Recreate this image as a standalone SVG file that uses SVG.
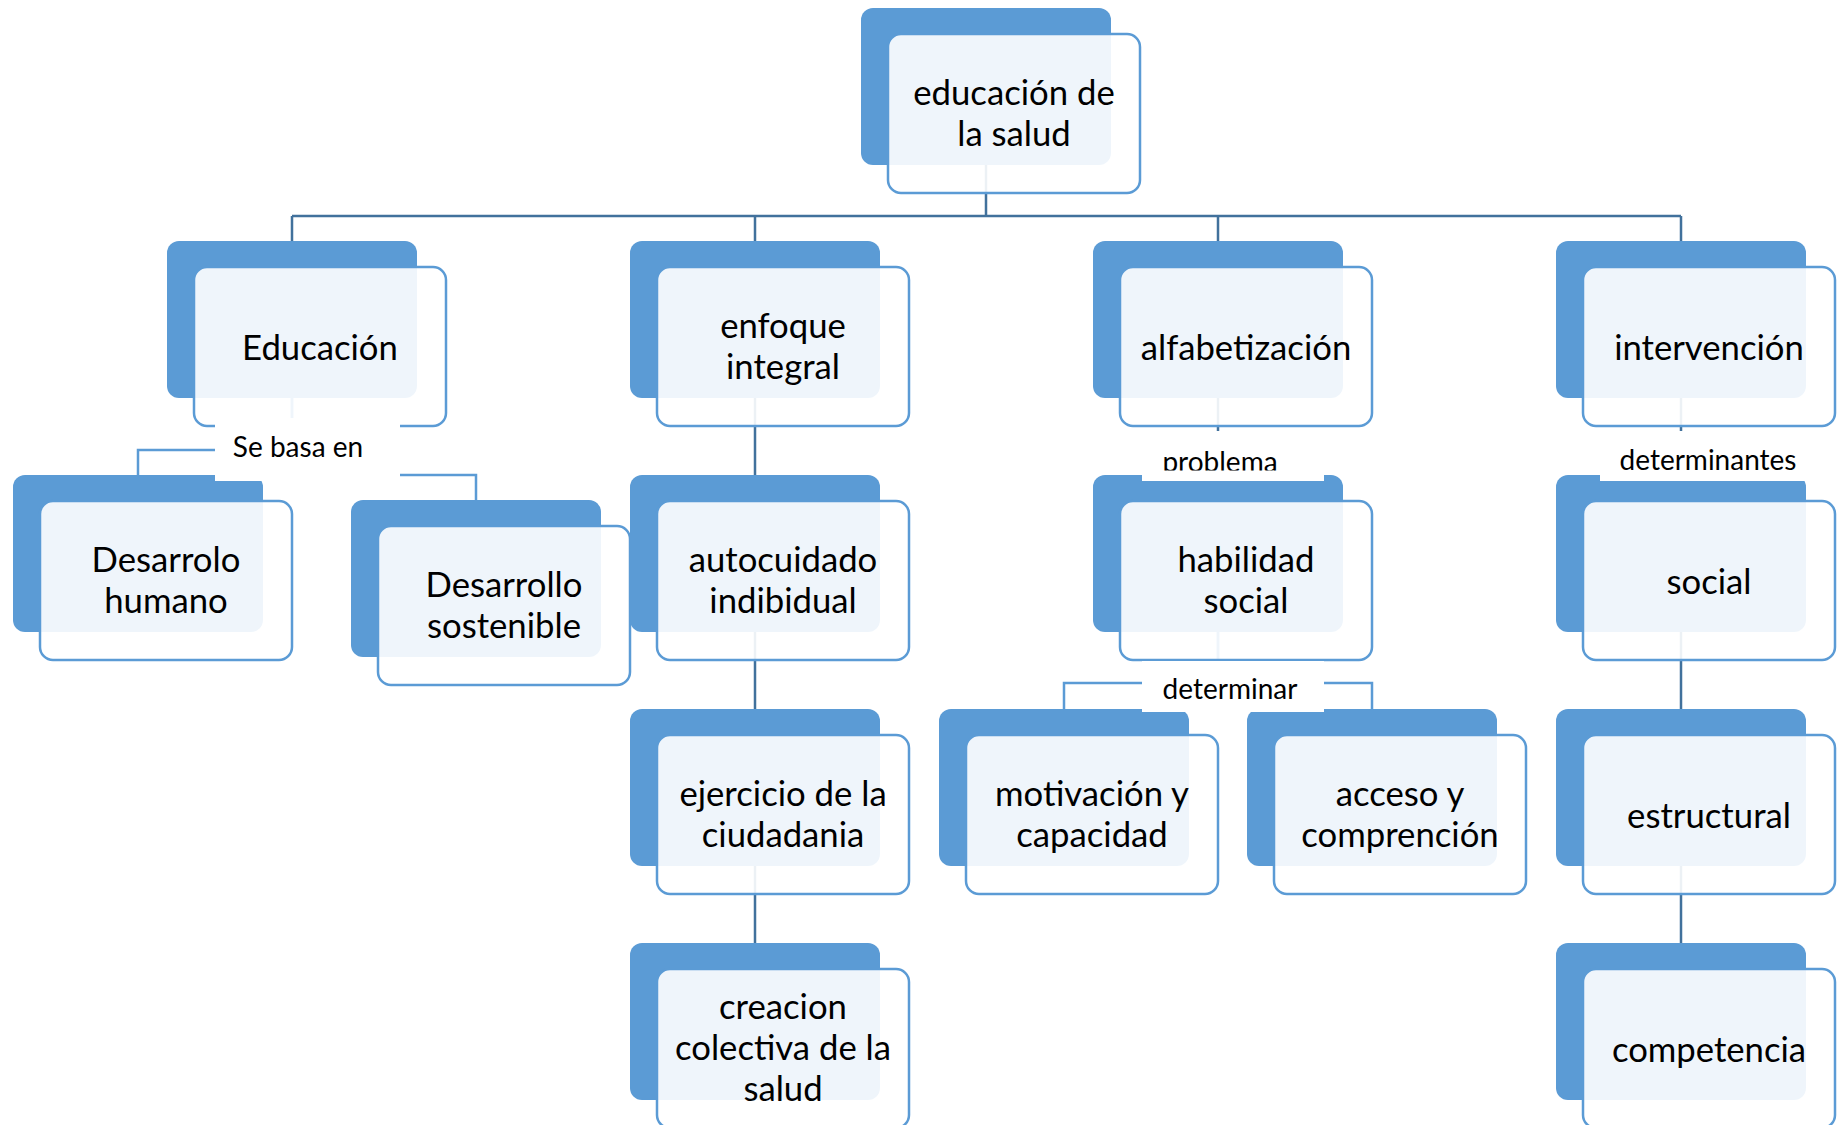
<svg xmlns="http://www.w3.org/2000/svg" width="1838" height="1125" viewBox="0 0 1838 1125">
<style>
.back{fill:#5B9BD5}
.front{fill:#fff;fill-opacity:0.9;stroke:#5B9BD5;stroke-width:2.5}
.t{font-family:Lato,"Liberation Sans",sans-serif;font-size:34.7px;text-anchor:middle;fill:#000}
.lb{font-family:Lato,"Liberation Sans",sans-serif;font-size:28px;text-anchor:middle;fill:#000}
.lbox{fill:#fff}
.c{fill:none;stroke:#41719C;stroke-width:2.5}
.c2{fill:none;stroke:#5B9BD5;stroke-width:2.5}
</style>
<defs>
<clipPath id="clipProb"><rect x="1142" y="431" width="182" height="39.5"/></clipPath>
</defs>
<rect width="1838" height="1125" fill="#fff"/>
<g id="connectors">
<path class="c" d="M986 165 V216 M292 216 H1681 M292 216 V241 M755 216 V241 M1218 216 V241 M1681 216 V241"/>
<path class="c" d="M755 398 V475 M755 632 V709 M755 866 V943"/>
<path class="c" d="M1218 398 V475"/>
<path class="c" d="M1681 398 V475 M1681 632 V709 M1681 866 V943"/>
<path class="c2" d="M292 398 V450 H138 V475"/>
<path class="c2" d="M292 398 V475 H476 V500"/>
<path class="c2" d="M1218 632 V683 H1064 V709"/>
<path class="c2" d="M1218 632 V683 H1372 V709"/>
</g>
<g id="n-top">
<rect class="back" x="861" y="8" width="250" height="157" rx="12"/>
<rect class="front" x="888" y="34" width="252" height="159" rx="13"/>
<text class="t"><tspan x="1014" y="104.5">educación de</tspan><tspan x="1014" y="145.5">la salud</tspan></text>
</g>
<g id="n-educacion">
<rect class="back" x="167" y="241" width="250" height="157" rx="12"/>
<rect class="front" x="194" y="267" width="252" height="159" rx="13"/>
<text class="t" x="320" y="359.5">Educación</text>
</g>
<g id="n-enfoque">
<rect class="back" x="630" y="241" width="250" height="157" rx="12"/>
<rect class="front" x="657" y="267" width="252" height="159" rx="13"/>
<text class="t"><tspan x="783" y="337.5">enfoque</tspan><tspan x="783" y="378.5">integral</tspan></text>
</g>
<g id="n-alfabetizacion">
<rect class="back" x="1093" y="241" width="250" height="157" rx="12"/>
<rect class="front" x="1120" y="267" width="252" height="159" rx="13"/>
<text class="t" x="1246" y="359.5">alfabetización</text>
</g>
<g id="n-intervencion">
<rect class="back" x="1556" y="241" width="250" height="157" rx="12"/>
<rect class="front" x="1583" y="267" width="252" height="159" rx="13"/>
<text class="t" x="1709" y="359.5">intervención</text>
</g>
<g id="n-humano">
<rect class="back" x="13" y="475" width="250" height="157" rx="12"/>
<rect class="front" x="40" y="501" width="252" height="159" rx="13"/>
<text class="t"><tspan x="166" y="571.5">Desarrolo</tspan><tspan x="166" y="612.5">humano</tspan></text>
</g>
<g id="n-sostenible">
<rect class="back" x="351" y="500" width="250" height="157" rx="12"/>
<rect class="front" x="378" y="526" width="252" height="159" rx="13"/>
<text class="t"><tspan x="504" y="596.5">Desarrollo</tspan><tspan x="504" y="637.5">sostenible</tspan></text>
</g>
<g id="n-autocuidado">
<rect class="back" x="630" y="475" width="250" height="157" rx="12"/>
<rect class="front" x="657" y="501" width="252" height="159" rx="13"/>
<text class="t"><tspan x="783" y="571.5">autocuidado</tspan><tspan x="783" y="612.5">indibidual</tspan></text>
</g>
<g id="n-habilidad">
<rect class="back" x="1093" y="475" width="250" height="157" rx="12"/>
<rect class="front" x="1120" y="501" width="252" height="159" rx="13"/>
<text class="t"><tspan x="1246" y="571.5">habilidad</tspan><tspan x="1246" y="612.5">social</tspan></text>
</g>
<g id="n-social">
<rect class="back" x="1556" y="475" width="250" height="157" rx="12"/>
<rect class="front" x="1583" y="501" width="252" height="159" rx="13"/>
<text class="t" x="1709" y="593.5">social</text>
</g>
<g id="n-ejercicio">
<rect class="back" x="630" y="709" width="250" height="157" rx="12"/>
<rect class="front" x="657" y="735" width="252" height="159" rx="13"/>
<text class="t"><tspan x="783" y="805.5">ejercicio de la</tspan><tspan x="783" y="846.5">ciudadania</tspan></text>
</g>
<g id="n-motivacion">
<rect class="back" x="939" y="709" width="250" height="157" rx="12"/>
<rect class="front" x="966" y="735" width="252" height="159" rx="13"/>
<text class="t"><tspan x="1092" y="805.5">motivación y</tspan><tspan x="1092" y="846.5">capacidad</tspan></text>
</g>
<g id="n-acceso">
<rect class="back" x="1247" y="709" width="250" height="157" rx="12"/>
<rect class="front" x="1274" y="735" width="252" height="159" rx="13"/>
<text class="t"><tspan x="1400" y="805.5">acceso y</tspan><tspan x="1400" y="846.5">comprención</tspan></text>
</g>
<g id="n-estructural">
<rect class="back" x="1556" y="709" width="250" height="157" rx="12"/>
<rect class="front" x="1583" y="735" width="252" height="159" rx="13"/>
<text class="t" x="1709" y="827.5">estructural</text>
</g>
<g id="n-creacion">
<rect class="back" x="630" y="943" width="250" height="157" rx="12"/>
<rect class="front" x="657" y="969" width="252" height="159" rx="13"/>
<text class="t"><tspan x="783" y="1018.5">creacion</tspan><tspan x="783" y="1059.5">colectiva de la</tspan><tspan x="783" y="1100.5">salud</tspan></text>
</g>
<g id="n-competencia">
<rect class="back" x="1556" y="943" width="250" height="157" rx="12"/>
<rect class="front" x="1583" y="969" width="252" height="159" rx="13"/>
<text class="t" x="1709" y="1061.5">competencia</text>
</g>
<g id="labels">
<rect class="lbox" x="215" y="418" width="185" height="63"/>
<text class="lb" x="298" y="457">Se basa en</text>
<rect class="lbox" x="1142" y="431" width="182" height="50"/>
<text class="lb" x="1220" y="472" clip-path="url(#clipProb)">problema</text>
<rect class="lbox" x="1600" y="431" width="216" height="50"/>
<text class="lb" x="1708" y="470">determinantes</text>
<rect class="lbox" x="1142" y="661" width="182" height="51"/>
<text class="lb" x="1230" y="699">determinar</text>
</g>
</svg>
